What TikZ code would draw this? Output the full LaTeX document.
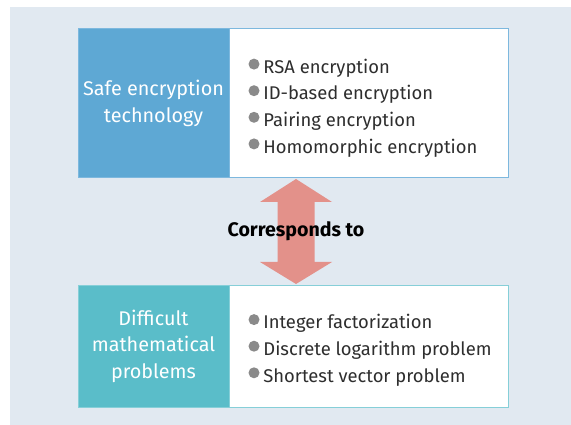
\documentclass[tikz,border=0pt]{standalone}
\usepackage{fontspec}
\setmainfont{Fira Sans}
\usetikzlibrary{positioning}

\definecolor{panelbg}{HTML}{E1E9F1}
\definecolor{safeblue}{HTML}{5EA8D4}
\definecolor{safeline}{HTML}{7DB8DE}
\definecolor{mathteal}{HTML}{5ABDC9}
\definecolor{mathline}{HTML}{86CFD8}
\definecolor{arrowred}{HTML}{E3918A}
\definecolor{dotgray}{HTML}{8A8A8A}
\definecolor{ink}{HTML}{2E2E2E}

\tikzset{
  headbox/.style={text=white, align=center, inner sep=0pt, line width=1pt,
    font=\fontsize{19.8}{26.5}\selectfont},
  listbox/.style={fill=white, inner sep=0pt, line width=1pt},
  bulletdot/.style={circle, fill=dotgray, inner sep=0pt, minimum size=11pt},
  item/.style={text=ink, inner sep=0pt, anchor=base west, font=\fontsize{18.4}{26}\selectfont},
}

\begin{document}
\begin{tikzpicture}[x=1pt,y=-1pt]
      \useasboundingbox (0,0) rectangle (571,425);
      \fill[panelbg] (10,7) rectangle (571,425);

      % two way arrow between the boxes
      \coordinate (atop) at (296,179);
      \coordinate (abot) at (296,284);
      \fill[arrowred] (atop) -- ++(36,23) -- ++(-17.5,0) -- ++(0,60) -- ++(17.5,0) -- (abot)
        -- ++(-36,-22) -- ++(17.5,0) -- ++(0,-60) -- ++(-17.5,0) -- cycle;
      \node[font=\bfseries\fontsize{19.6}{22}\selectfont, text=black] (corr) at (296,231) {Corresponds to};

      % upper pair
      \node[listbox, draw=safeline, minimum width=279, minimum height=149] (safelist) at (368.5,103.5) {};
      \node[headbox, fill=safeblue, draw=safeline, minimum width=151, minimum height=149] (safe) at (153.5,103.5) {Safe encryption\\technology};
      \foreach \txt [count=\i] in {RSA encryption, ID-based encryption, Pairing encryption, Homomorphic encryption}{
        \node[bulletdot] (sd\i) at (254,37.5+26.6*\i) {};
        \node[item] (st\i) at ([xshift=3.5pt, yshift=-9.3pt]sd\i.east) {\txt};
      }

      % lower pair
      \node[listbox, draw=mathline, minimum width=279, minimum height=122] (mathlist) at (368.5,346) {};
      \node[headbox, fill=mathteal, draw=mathline, minimum width=151, minimum height=122] (math) at (153.5,346) {Difficult\\mathematical\\problems};
      \foreach \txt [count=\i] in {Integer factorization, Discrete logarithm problem, Shortest vector problem}{
        \node[bulletdot] (md\i) at (254,293+26.6*\i) {};
        \node[item] (mt\i) at ([xshift=3.5pt, yshift=-9.3pt]md\i.east) {\txt};
      }
\end{tikzpicture}
\end{document}
